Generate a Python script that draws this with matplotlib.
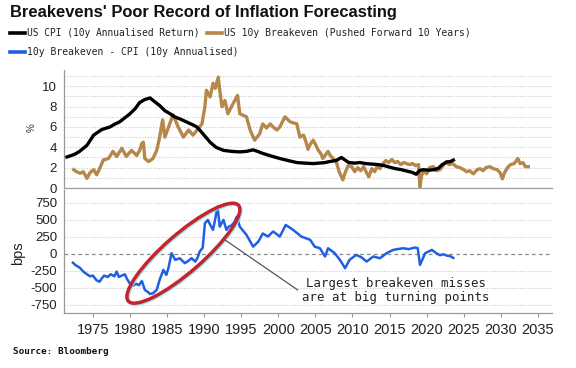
import matplotlib
matplotlib.use("Agg")
import matplotlib.pyplot as plt
from matplotlib.patches import Ellipse
from matplotlib.lines import Line2D
from matplotlib.transforms import ScaledTranslation

# ---------------- data ----------------
cpi_years = [1971.5, 1972.5, 1973.2, 1974.2, 1975.1, 1976.2, 1977.3, 1978.0, 1978.6, 1979.3,
             1980.0, 1980.7, 1981.3, 1982.0, 1982.7, 1983.3, 1984.0, 1984.7, 1985.4, 1986.0,
             1986.7, 1987.6, 1988.5, 1989.0, 1989.4, 1990.1, 1990.8, 1991.6, 1992.6, 1993.7,
             1994.8, 1995.7, 1996.6, 1997.2, 1997.9, 1999.0, 2000.2, 2001.3, 2002.5, 2003.5,
             2004.7, 2005.5, 2006.3, 2006.9, 2007.8, 2008.5, 2008.9, 2009.5, 2010.3, 2011.0,
             2011.8, 2012.6, 2013.5, 2014.3, 2015.0, 2015.8, 2016.6, 2017.4, 2018.0, 2018.6,
             2019.0, 2019.5, 2020.3, 2021.0, 2021.6, 2022.1, 2022.7, 2023.2, 2023.6]
cpi_values = [3.05, 3.3, 3.6, 4.2, 5.2, 5.75, 6.0, 6.3, 6.5, 6.9,
              7.3, 7.8, 8.4, 8.7, 8.85, 8.5, 8.1, 7.6, 7.3, 7.0,
              6.8, 6.5, 6.2, 6.0, 5.7, 5.1, 4.5, 4.0, 3.7, 3.6,
              3.55, 3.6, 3.75, 3.6, 3.4, 3.15, 2.9, 2.7, 2.5, 2.45,
              2.4, 2.45, 2.5, 2.6, 2.7, 3.0, 2.8, 2.5, 2.45, 2.5,
              2.4, 2.35, 2.3, 2.2, 2.05, 1.9, 1.8, 1.65, 1.55, 1.35,
              1.7, 1.8, 1.75, 1.8, 1.95, 2.3, 2.55, 2.6, 2.75]

be_years = [1972.4, 1972.8, 1973.3, 1973.7, 1974.2, 1974.6, 1975.1, 1975.5, 1975.9, 1976.4,
            1977.1, 1977.7, 1978.2, 1978.9, 1979.5, 1980.2, 1980.9, 1981.3, 1981.6, 1981.8,
            1982.0, 1982.5, 1983.1, 1983.6, 1984.0, 1984.4, 1984.7, 1985.2, 1985.8, 1986.5,
            1987.2, 1987.9, 1988.5, 1989.2, 1989.7, 1990.1, 1990.3, 1990.8, 1991.2, 1991.5,
            1991.9, 1992.1, 1992.4, 1992.8, 1993.2, 1993.9, 1994.5, 1994.8, 1995.7, 1996.2,
            1996.8, 1997.5, 1997.9, 1998.4, 1998.9, 1999.3, 1999.8, 2000.2, 2000.9, 2001.6,
            2002.5, 2002.9, 2003.4, 2003.7, 2004.0, 2004.3, 2004.7, 2005.0, 2005.4, 2005.8,
            2006.0, 2006.4, 2006.7, 2007.0, 2007.4, 2007.8, 2008.2, 2008.7, 2009.0, 2009.4,
            2009.9, 2010.3, 2010.7, 2011.1, 2011.5, 2011.9, 2012.2, 2012.6, 2013.0, 2013.3,
            2013.7, 2014.0, 2014.5, 2014.9, 2015.3, 2015.7, 2016.1, 2016.5, 2016.9, 2017.3,
            2017.7, 2018.1, 2018.5, 2018.9, 2019.0, 2019.1, 2019.3, 2019.6, 2020.0, 2020.4,
            2020.9, 2021.3, 2021.8, 2022.3, 2022.7, 2023.0, 2023.5, 2024.0, 2024.5, 2025.0,
            2025.4, 2025.8, 2026.3, 2026.8, 2027.2, 2027.6, 2028.0, 2028.5, 2029.0, 2029.5,
            2029.9, 2030.2, 2030.5, 2030.9, 2031.3, 2031.8, 2032.3, 2032.6, 2033.0, 2033.3,
            2033.7]
be_values = [1.8, 1.6, 1.45, 1.6, 0.95, 1.5, 1.8, 1.3, 1.9, 2.75,
             2.9, 3.6, 3.1, 3.9, 3.1, 3.7, 3.2, 3.7, 4.4, 4.5,
             2.9, 2.6, 2.9, 3.7, 5.0, 6.7, 5.0, 6.0, 7.2, 6.0,
             5.0, 5.7, 5.2, 5.85, 6.3, 8.0, 9.6, 8.95, 10.3, 9.8,
             10.9, 9.6, 8.0, 8.6, 7.3, 8.3, 9.1, 7.3, 7.0, 5.7,
             4.7, 5.35, 6.3, 5.9, 6.3, 6.0, 5.7, 6.0, 7.0, 6.5,
             6.3, 5.0, 5.2, 4.6, 3.8, 4.3, 4.7, 4.3, 3.7, 3.3,
             2.9, 3.3, 3.6, 3.2, 2.9, 2.6, 1.6, 0.8, 1.5, 2.2,
             2.1, 1.6, 2.0, 1.7, 2.1, 1.5, 1.1, 1.9, 1.6, 2.1,
             1.9, 2.3, 2.7, 2.5, 2.8, 2.5, 2.6, 2.3, 2.5, 2.4,
             2.3, 2.4, 2.2, 2.3, 1.2, 0.1, 1.2, 1.7, 1.4, 2.0,
             2.1, 1.7, 1.8, 2.3, 2.6, 2.3, 2.4, 2.1, 2.0, 1.8,
             1.6, 1.7, 1.4, 1.8, 1.9, 1.7, 2.0, 2.1, 1.9, 1.8,
             1.5, 0.9, 1.5, 2.0, 2.3, 2.4, 2.9, 2.4, 2.5, 2.1,
             2.1]

gap_years = [1972.3, 1972.7, 1973.2, 1973.7, 1974.2, 1974.6, 1975.0, 1975.5, 1975.9, 1976.2,
             1976.5, 1977.0, 1977.4, 1977.9, 1978.2, 1978.5, 1978.9, 1979.3, 1979.6, 1980.0,
             1980.4, 1980.8, 1981.2, 1981.6, 1982.0, 1982.4, 1982.7, 1983.1, 1983.6, 1984.0,
             1984.5, 1984.9, 1985.2, 1985.6, 1986.1, 1986.7, 1987.4, 1987.9, 1988.3, 1988.8,
             1989.1, 1989.4, 1989.8, 1990.1, 1990.5, 1990.8, 1991.2, 1991.5, 1991.8, 1992.1,
             1992.6, 1993.0, 1993.3, 1993.7, 1994.1, 1994.4, 1994.8, 1995.7, 1996.6, 1997.3,
             1997.9, 1998.6, 1999.3, 2000.2, 2001.0, 2002.0, 2003.1, 2004.3, 2004.9, 2005.6,
             2006.3, 2006.7, 2007.6, 2008.3, 2009.0, 2009.6, 2010.5, 2011.2, 2011.9, 2012.8,
             2013.7, 2014.6, 2015.5, 2016.8, 2017.6, 2018.4, 2018.8, 2019.1, 2019.8, 2020.7,
             2021.3, 2021.8, 2022.2, 2022.7, 2023.1, 2023.6]
gap_values = [-130, -170, -200, -260, -300, -330, -320, -390, -410, -360,
              -320, -340, -300, -330, -260, -340, -320, -300, -370, -440,
              -470, -440, -460, -400, -530, -560, -590, -580, -530, -380,
              -235, -309, -200, 10, -88, -64, -137, -100, -64, -113,
              -60, 34, 90, 451, 500, 430, 353, 520, 696, 401,
              500, 353, 400, 420, 470, 550, 400, 280, 107, 180,
              300, 255, 330, 255, 426, 353, 255, 206, 107, 83,
              -39, 83, 10, -88, -210, -88, -15, -50, -113, -39,
              -64, 10, 59, 83, 70, 93, 85, -162, 10, 59,
              10, -20, -5, -25, -30, -60]

x_ticks = [1975, 1980, 1985, 1990, 1995, 2000, 2005, 2010, 2015, 2020, 2025, 2030, 2035]
top_ticks = [0, 2, 4, 6, 8, 10]
bot_ticks = [-750, -500, -250, 0, 250, 500, 750]

title = "Breakevens' Poor Record of Inflation Forecasting"
lab_cpi = "US CPI (10y Annualised Return)"
lab_be = "US 10y Breakeven (Pushed Forward 10 Years)"
lab_gap = "10y Breakeven - CPI (10y Annualised)"
note = "Largest breakeven misses\nare at big turning points"
source = "Source: Bloomberg"

# ---------------- style ----------------
C_CPI = "#000000"
C_BE = "#b5874a"
C_GAP = "#1f5fe3"
GRID = "#c9c9c9"
SPINE = "#9a9a9a"
W, H = 576, 368

fig = plt.figure(figsize=(W / 100, H / 100), dpi=100)
fig.patch.set_facecolor("white")

def fx(px):
    return px / W

def fy(py):
    return 1 - py / H

XMIN, XMAX = 1971.1, 2036.9
ax1 = fig.add_axes([fx(64), fy(188), fx(552) - fx(64), fy(70) - fy(188)])
ax2 = fig.add_axes([fx(64), fy(313), fx(552) - fx(64), fy(190) - fy(313)])

for ax in (ax1, ax2):
    ax.set_xlim(XMIN, XMAX)
    for s in ("top", "right"):
        ax.spines[s].set_visible(False)
    ax.spines["left"].set_color(SPINE)
    ax.spines["bottom"].set_color(SPINE)
    ax.spines["left"].set_linewidth(0.9)
    ax.spines["bottom"].set_linewidth(0.9)
    ax.set_facecolor("none")

tick_font = dict(family="Liberation Sans", size=9.5)

# top panel
ax1.set_ylim(0, 11.6)
for v in range(1, 12):
    ax1.axhline(v, color=GRID, lw=0.8, ls=(0, (1, 1.5)), zorder=0)
ax1.plot(be_years, be_values, color=C_BE, lw=2.4, solid_joinstyle="round", zorder=2)
ax1.plot(cpi_years, cpi_values, color=C_CPI, lw=2.4, solid_joinstyle="round", zorder=3)
ax1.set_yticks(top_ticks)
ax1.set_yticklabels([str(t) for t in top_ticks], **tick_font)
ax1.set_xticks(x_ticks)
ax1.tick_params(axis="x", length=0, labelbottom=False)
ax1.tick_params(axis="y", length=0, pad=5, colors="#222222")

# bottom panel
ax2.set_ylim(-870, 940)
for v in bot_ticks:
    if v == 0:
        ax2.axhline(0, color="#8c8c8c", lw=0.9, ls=(0, (3, 2.5)), zorder=0)
    else:
        ax2.axhline(v, color=GRID, lw=0.8, ls=(0, (1, 1.5)), zorder=0)
ax2.plot(gap_years, gap_values, color=C_GAP, lw=1.8, solid_joinstyle="round", zorder=3)
ax2.set_yticks(bot_ticks)
ax2.set_yticklabels([str(t) for t in bot_ticks], **tick_font)
ax2.set_xticks(x_ticks)
ax2.set_xticklabels([str(t) for t in x_ticks], family="Liberation Sans", size=10.5)
ax2.tick_params(axis="x", length=3, width=0.8, pad=4, colors="#222222")
ax2.tick_params(axis="x", color=SPINE)
ax2.tick_params(axis="y", length=0, pad=5, colors="#222222")

# ellipse highlight (drawn in inches around a data-space centre)
cx, cy = 1987.2, 10
off = ScaledTranslation(cx, cy, ax2.transData)
glow = Ellipse((0.012, -0.012), 1.46, 0.38, angle=41, fill=False, ec="#7fe3e8",
               lw=2.2, alpha=0.8, transform=fig.dpi_scale_trans + off, zorder=4)
ring = Ellipse((0, 0), 1.46, 0.38, angle=41, fill=False, ec="#c8232c",
               lw=2.5, transform=fig.dpi_scale_trans + off, zorder=5)
ax2.add_patch(glow)
ax2.add_patch(ring)

# annotation
ax2.plot([1992.8, 2002.6], [206, -530], color="#555555", lw=0.9, zorder=4)
ax2.text(2015.8, -537, note, ha="center", va="center", multialignment="center",
         family="DejaVu Sans Mono", size=8.9, linespacing=1.15, color="#222222", zorder=6)

# axis labels
fig.text(fx(32), fy(128), "%", rotation=90, ha="center", va="center",
         family="Liberation Sans", size=7, color="#333333")
fig.text(fx(18), fy(253), "bps", rotation=90, ha="center", va="center",
         family="Liberation Sans", size=10.5, color="#222222")

# title / legend / source
renderer = fig.canvas.get_renderer()

def fit_text(x0, yc, s, target_w, **kw):
    t = fig.text(fx(x0), fy(yc), s, ha="left", va="center", **kw)
    w = t.get_window_extent(renderer).width
    t.set_fontsize(t.get_fontsize() * target_w / w)
    return t

fit_text(10, 12.5, title, 385, family="Liberation Sans", weight="bold", size=12, color="#111111")

legend_rows = [
    (10, 33, C_CPI, lab_cpi, 174),
    (207, 33, C_BE, lab_be, 247),
    (10, 52, C_GAP, lab_gap, 210),
]
for x0, yc, col, lab, tw in legend_rows:
    fig.add_artist(Line2D([fx(x0), fx(x0 + 15)], [fy(yc), fy(yc)], color=col, lw=2.6,
                          transform=fig.transFigure))
    fit_text(x0 + 17, yc, lab, tw, family="DejaVu Sans Mono", size=7.5, color="#222222")

fit_text(13, 351, source, 95, family="DejaVu Sans Mono", weight="bold", size=7, color="#111111")

fig.savefig("out.png", dpi=100, facecolor="white")
